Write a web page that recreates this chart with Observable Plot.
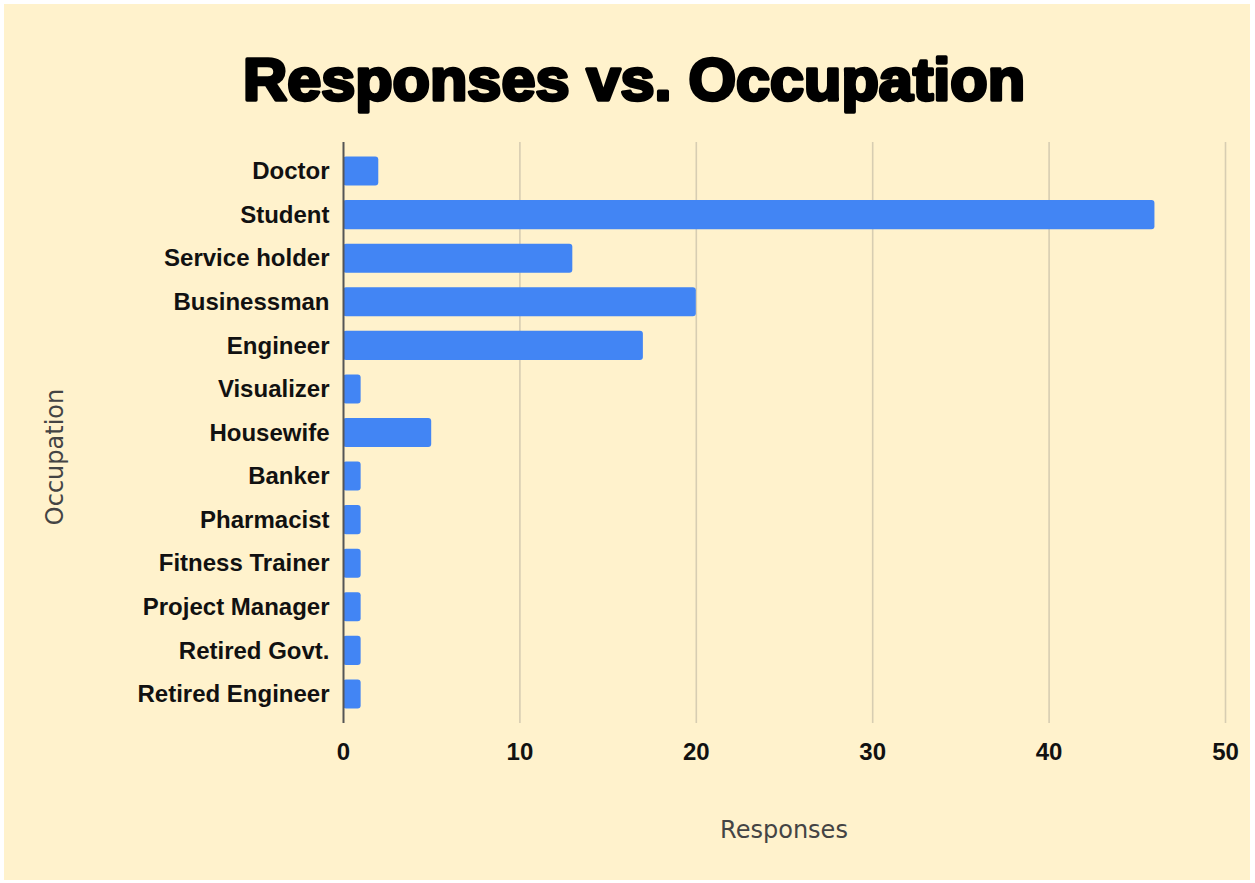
<!DOCTYPE html>
<html>
<head>
<meta charset="utf-8">
<script src="https://cdn.jsdelivr.net/npm/d3@7"></script>
<script src="https://cdn.jsdelivr.net/npm/@observablehq/plot@0.6"></script>
<style>
  html, body { margin: 0; padding: 0; background: #ffffff; }
  #page { position: relative; width: 1255px; height: 883px; overflow: hidden; }
  #bg { position: absolute; left: 4px; top: 4px; width: 1246px; height: 876px; background: #fff2cc; }
  #title { position: absolute; left: 0; top: 0; }
  #chart { position: absolute; left: 0; top: 0; }
  #chart svg { background: transparent; overflow: visible; }
  #xlabel, #ylabel { position: absolute; font-family: "DejaVu Sans", sans-serif; font-size: 24px; color: #444; white-space: nowrap; line-height: 1; }
  #xlabel { left: 0; width: 1568px; top: 818px; text-align: center; }
  #ylabel { left: 55px; top: 457px; transform: translate(-50%, -50%) rotate(-90deg); }
</style>
</head>
<body>
<div id="page">
  <div id="bg"></div>
  <svg id="title" width="1255" height="130">
    <text x="634" y="100" text-anchor="middle" textLength="782" lengthAdjust="spacingAndGlyphs"
      font-family="Liberation Sans, Arial, sans-serif" font-weight="bold" font-size="60"
      fill="#000" stroke="#000" stroke-width="3.4" stroke-linejoin="round">Responses vs. Occupation</text>
  </svg>
  <div id="chart"></div>
  <div id="xlabel">Responses</div>
  <div id="ylabel">Occupation</div>
</div>
<script>
const occupations = ["Doctor","Student","Service holder","Businessman","Engineer","Visualizer","Housewife","Banker","Pharmacist","Fitness Trainer","Project Manager","Retired Govt.","Retired Engineer"];
const responses = [2,46,13,20,17,1,5,1,1,1,1,1,1];
const xTicks = [0,10,20,30,40,50];

const data = occupations.map((o, i) => ({occupation: o, responses: responses[i]}));

const labelFont = "Liberation Sans, Arial, sans-serif";

const chart = Plot.plot({
  width: 1255,
  height: 883,
  marginLeft: 343,
  marginRight: 30,
  marginTop: 142,
  marginBottom: 160,
  style: {background: "transparent"},
  x: {domain: [0, 50], ticks: xTicks},
  y: {domain: occupations, padding: 0.333, round: false},
  marks: [
    Plot.ruleX(xTicks.slice(1), {stroke: "#d7cdb2", strokeWidth: 1.6}),
    Plot.barX(data, {x: "responses", y: "occupation", fill: "#4285f4", rx: 3}),
    Plot.ruleX([0], {stroke: "#555", strokeWidth: 2}),
    Plot.axisX({ticks: xTicks, tickSize: 0, tickPadding: 19, label: null,
      fontSize: 24, fontWeight: "bold", fontFamily: labelFont, fill: "#111", stroke: "#111", strokeWidth: 0.6}),
    Plot.axisY({tickSize: 0, tickPadding: 14, label: null,
      fontSize: 24, fontWeight: "bold", fontFamily: labelFont, fill: "#111", stroke: "#111", strokeWidth: 0.5})
  ]
});
document.getElementById("chart").appendChild(chart);
</script>
</body>
</html>
